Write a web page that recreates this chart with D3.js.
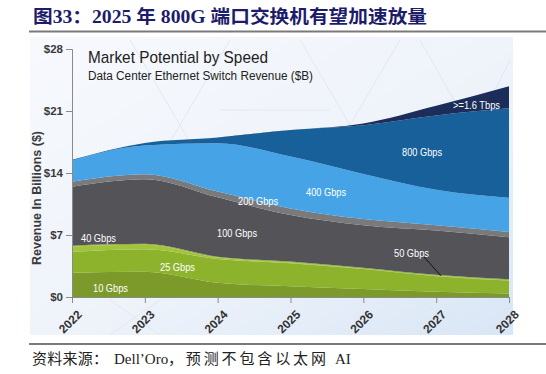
<!DOCTYPE html>
<html>
<head>
<meta charset="utf-8">
<script src="https://cdn.jsdelivr.net/npm/d3@7"></script>
<style>
  body { margin: 0; background: #fff; }
  svg { display: block; }
</style>
</head>
<body>
<div id="chart"></div>
<script>
// values, $B per year
const years = [2022, 2023, 2024, 2025, 2026, 2027, 2028];
const speeds = ['10G', '25G', '40G', '50G', '100G', '200G', '400G', '800G', '1.6T'];
const g10  = [2.75, 2.85, 1.6, 1.2, 0.9, 0.6, 0.4];
const g25  = [2.35, 2.55, 2.7, 2.6, 2.25, 1.75, 1.45];
const g40  = [0.6, 0.5, 0.15, 0.1, 0.05, 0.05, 0.05];
const g50  = [0.1, 0.1, 0.1, 0.1, 0.1, 0.1, 0.1];
const g100 = [6.65, 7.3, 6.7, 5.25, 4.8, 5.0, 4.75];
const g200 = [0.55, 0.55, 0.65, 0.75, 0.7, 0.6, 0.6];
const g400 = [2.4, 3.25, 5.45, 5.85, 5.1, 4.0, 3.85];
const g800 = [0.1, 0.3, 0.65, 3.0, 5.5, 8.4, 10.1];
const t16  = [0, 0, 0, 0, 0.2, 1.1, 2.5];
const yTicks = [0, 7, 14, 21, 28];

const series = [g10, g25, g40, g50, g100, g200, g400, g800, t16];
const colors = ['#7b9a29', '#8db32c', '#a2c43c', '#93b82f', '#545358', '#7a7a7d', '#46a4e6', '#17609a', '#1b2d58'];

const rows = years.map((yr, i) => {
    const r = { year: yr };
    speeds.forEach((k, j) => r[k] = series[j][i]);
    return r;
});

const W = 546, H = 374;
const svg = d3.select('#chart').append('svg')
    .attr('width', W)
    .attr('height', H);

// header
svg.append('text')
    .attr('x', 33).attr('y', 23)
    .attr('font-family', '"Liberation Serif", "Noto Sans CJK SC", serif')
    .attr('font-weight', 'bold')
    .attr('font-size', 18.5)
    .attr('fill', '#1c1c6b')
    .attr('textLength', 394).attr('lengthAdjust', 'spacingAndGlyphs')
    .text('图33：2025 年 800G 端口交换机有望加速放量');

svg.append('line')
    .attr('x1', 29).attr('x2', 546).attr('y1', 31.5).attr('y2', 31.5)
    .attr('stroke', '#7a7a7a').attr('stroke-width', 2);

// panel background
const defs = svg.append('defs');
const grad = defs.append('linearGradient').attr('id', 'bg')
    .attr('x1', 0).attr('y1', 0).attr('x2', 1).attr('y2', 1);
grad.append('stop').attr('offset', 0).attr('stop-color', '#f7f9fd');
grad.append('stop').attr('offset', 0.55).attr('stop-color', '#eef3fa');
grad.append('stop').attr('offset', 1).attr('stop-color', '#d9e6f6');

svg.append('rect')
    .attr('x', 30).attr('y', 37).attr('width', 483).attr('height', 298)
    .attr('fill', 'url(#bg)');

// faint hex network in background
const hex = svg.append('g').attr('stroke', '#dde5f1').attr('stroke-width', 0.8).attr('fill', 'none');
[[130, 40, 230, 210], [230, 40, 130, 210], [300, 40, 400, 210], [400, 40, 300, 210],
 [420, 40, 510, 200], [510, 60, 440, 200], [220, 110, 330, 110], [110, 300, 160, 335],
 [160, 300, 110, 335], [420, 300, 470, 335], [470, 300, 420, 335]].forEach(l => {
    hex.append('line').attr('x1', l[0]).attr('y1', l[1]).attr('x2', l[2]).attr('y2', l[3]);
});

const x = d3.scaleLinear().domain([2022, 2028]).range([72, 509]);
const y = d3.scaleLinear().domain([0, 28]).range([297, 49]);

const stack = d3.stack().keys(speeds);
const layers = stack(rows);

const area = d3.area()
    .x(d => x(d.data.year))
    .y0(d => y(d[0]))
    .y1(d => y(d[1]))
    .curve(d3.curveMonotoneX);

svg.append('g').selectAll('path')
    .data(layers)
    .join('path')
    .attr('d', area)
    .attr('fill', (d, i) => colors[i]);

// axes
const yAxis = svg.append('g')
    .attr('transform', `translate(${x(2022)},0)`)
    .call(d3.axisLeft(y).tickValues(yTicks).tickFormat(d => '$' + d).tickSize(6).tickPadding(3));
yAxis.select('.domain').attr('stroke', '#8a8a8a');
yAxis.selectAll('.tick line').attr('stroke', '#8a8a8a');
yAxis.selectAll('text')
    .attr('font-family', '"Liberation Sans", Arial, sans-serif')
    .attr('font-size', 11.5).attr('font-weight', 'bold').attr('fill', '#3a3a3a');

const xAxis = svg.append('g')
    .attr('transform', `translate(0,${y(0)})`)
    .call(d3.axisBottom(x).tickValues(years).tickFormat(d3.format('d')).tickSize(6));
xAxis.select('.domain').attr('stroke', '#8a8a8a');
xAxis.selectAll('.tick line').attr('stroke', '#8a8a8a');
xAxis.selectAll('text')
    .attr('font-family', '"Liberation Sans", Arial, sans-serif')
    .attr('font-size', 12).attr('font-weight', 'bold').attr('fill', '#333')
    .attr('text-anchor', 'end')
    .attr('transform', 'translate(3,11) rotate(-45)')
    .attr('dy', '0.35em').attr('y', 6);

svg.append('text')
    .attr('transform', 'translate(41,198) rotate(-90)')
    .attr('text-anchor', 'middle')
    .attr('font-family', '"Liberation Sans", Arial, sans-serif')
    .attr('font-size', 12.5).attr('font-weight', 'bold').attr('fill', '#3a3a3a')
    .text('Revenue In Billions ($)');

// chart title inside panel
svg.append('text')
    .attr('x', 88).attr('y', 63)
    .attr('font-family', '"Liberation Sans", Arial, sans-serif')
    .attr('font-size', 17).attr('fill', '#222')
    .attr('textLength', 180).attr('lengthAdjust', 'spacingAndGlyphs')
    .text('Market Potential by Speed');
svg.append('text')
    .attr('x', 88).attr('y', 80)
    .attr('font-family', '"Liberation Sans", Arial, sans-serif')
    .attr('font-size', 12.5).attr('fill', '#222')
    .attr('textLength', 225).attr('lengthAdjust', 'spacingAndGlyphs')
    .text('Data Center Ethernet Switch Revenue ($B)');

// series labels
const labels = [
    ['10 Gbps', 93, 292, 35],
    ['25 Gbps', 160, 271, 35],
    ['40 Gbps', 81, 242, 35],
    ['100 Gbps', 217, 237, 40],
    ['200 Gbps', 238, 205, 40],
    ['400 Gbps', 306, 196, 40],
    ['800 Gbps', 402, 156, 40],
    ['>=1.6 Tbps', 453, 109, 47],
    ['50 Gbps', 394, 257, 35]
];
svg.append('g').selectAll('text')
    .data(labels)
    .join('text')
    .attr('x', d => d[1]).attr('y', d => d[2])
    .attr('font-family', '"Liberation Sans", Arial, sans-serif')
    .attr('font-size', 11).attr('fill', '#fff')
    .attr('textLength', d => d[3]).attr('lengthAdjust', 'spacingAndGlyphs')
    .text(d => d[0]);

svg.append('line')
    .attr('x1', 424).attr('y1', 257).attr('x2', 441).attr('y2', y(2.5) + 1)
    .attr('stroke', '#111').attr('stroke-width', 1);

// footer
svg.append('line')
    .attr('x1', 29).attr('x2', 546).attr('y1', 344).attr('y2', 344)
    .attr('stroke', '#7a7a7a').attr('stroke-width', 2);

const src = svg.append('text')
    .attr('y', 364)
    .attr('font-family', '"Liberation Serif", "Noto Sans CJK SC", serif')
    .attr('font-size', 15).attr('fill', '#222');
src.append('tspan').attr('x', 32).attr('textLength', 76).attr('lengthAdjust', 'spacing').text('资料来源：');
src.append('tspan').attr('x', 114).text('Dell’Oro');
src.append('tspan').attr('x', 168).attr('textLength', 158).attr('lengthAdjust', 'spacing').text('，预测不包含以太网');
src.append('tspan').attr('x', 335).text('AI');
</script>
</body>
</html>
